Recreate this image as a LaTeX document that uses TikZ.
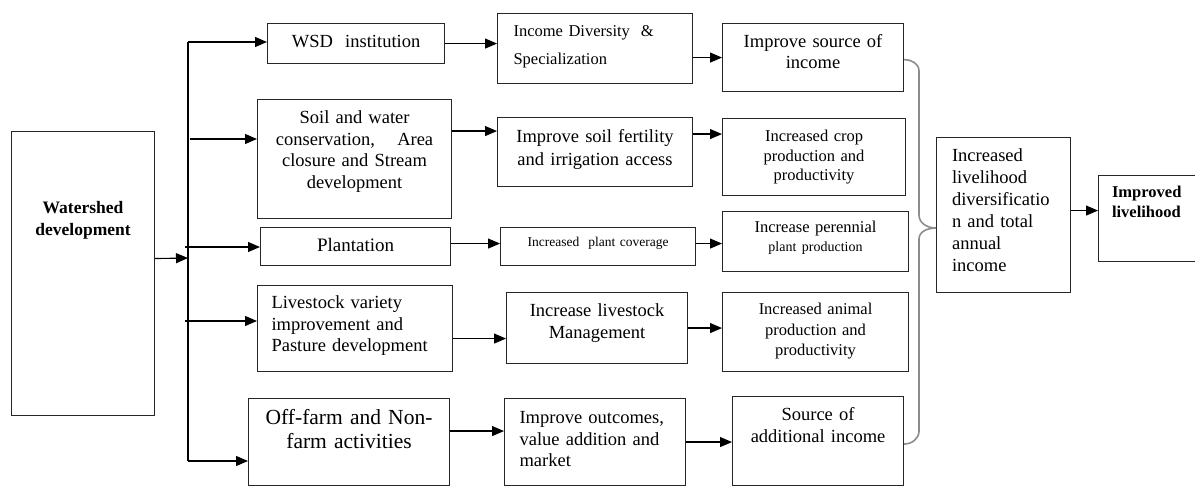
\documentclass[tikz,border=0pt]{standalone}
\usepackage{fontspec}
\setmainfont{Liberation Serif}
\usetikzlibrary{arrows.meta}

\newcommand{\fsz}[2]{\fontsize{#1}{#2}\selectfont}

\begin{document}
\begin{tikzpicture}[x=1pt, y=-1pt,
    box/.style={draw=black!85, line width=1.1pt, anchor=north west, inner xsep=6pt, inner ysep=0pt, align=center},
    lbox/.style={box, align=left},
    arr/.style={line width=1.1pt, -{Triangle[length=12pt,width=10pt]}},
    brace/.style={draw=black!45, line width=1.6pt}]
  \useasboundingbox (0,0) rectangle (1195,486);

  % source box
  \node[box, text width=131pt, text height=82pt, text depth=202pt, font=\fsz{17.5}{21.7}\bfseries] (ws) at (11,131) {Watershed\\development};

  % interventions
  \node[box, text width=165pt, text height=24pt, text depth=16pt, font=\fsz{18.5}{21.7}] (wsd) at (267,23) {WSD\ \ institution};
  \node[box, text width=182pt, text height=24pt, text depth=95pt, font=\fsz{18.5}{21.7}] (swc) at (257,99) {Soil and water\\conservation,\hspace{1.2em}Area\\closure and Stream\\development};
  \node[box, text width=178pt, text height=24pt, text depth=14pt, font=\fsz{19}{22}] (plant) at (260,227) {Plantation};
  \node[lbox, inner xsep=14pt, text width=167pt, text height=23pt, text depth=63pt, font=\fsz{18.5}{21.7}] (lsv) at (257,285) {Livestock variety\\improvement and\\Pasture development};
  \node[box, text width=189pt, text height=26pt, text depth=61pt, font=\fsz{21.5}{24}] (ofn) at (248,398) {Off-farm and Non-\\farm activities};

  % outputs
  \node[lbox, inner xsep=16pt, text width=163pt, text height=23pt, text depth=47pt, font=\fsz{16.5}{27.6}] (incdiv) at (497,13) {Income Diversity\ \ \&\\Specialization};
  \node[box, text width=183pt, text height=25pt, text depth=44pt, font=\fsz{18.5}{23}] (isf) at (497,117) {Improve soil fertility\\and irrigation access};
  \node[box, text width=183pt, text height=19pt, text depth=19pt, font=\fsz{13.5}{16}] (ipc) at (500,227) {Increased\ \ plant coverage};
  \node[box, text width=169pt, text height=24pt, text depth=47pt, font=\fsz{18.5}{21.7}] (ilm) at (506,292) {Increase livestock\\Management};
  \node[lbox, inner xsep=15pt, text width=151pt, text height=25pt, text depth=62pt, font=\fsz{18.5}{21.7}] (iov) at (504,398) {Improve outcomes,\\value addition and\\market};

  % outcomes
  \node[box, text width=169pt, text height=24pt, text depth=44pt, font=\fsz{18.5}{21}] (isi) at (722,23) {Improve source of\\income};
  \node[box, text width=171pt, text height=23pt, text depth=54pt, font=\fsz{16.5}{19.7}] (icp) at (722,118) {Increased crop\\production and\\productivity};
  \node[box, text width=174pt, text height=21pt, text depth=39pt, font=\fsz{16.5}{19}] (ipp) at (722,211) {Increase perennial\\{\fsz{14}{19}plant production}};
  \node[box, text width=174pt, text height=22pt, text depth=57pt, font=\fsz{16.5}{20.5}] (iap) at (722,292) {Increased animal\\production and\\productivity};
  \node[box, text width=159pt, text height=24pt, text depth=65pt, font=\fsz{18.5}{21.7}] (sai) at (732,396) {Source of\\additional income};

  % impact
  \node[lbox, inner xsep=15.5pt, text width=103pt, text height=24pt, text depth=131pt, font=\fsz{18.5}{21.9}] (ild) at (936,137) {Increased\\livelihood\\diversificatio\\n and total\\annual\\income};
  \node[lbox, inner xsep=13.5pt, text width=75pt, text height=22pt, text depth=64pt, font=\fsz{16.5}{20}\bfseries] (imp) at (1098,175) {Improved\\livelihood};

  % trunk and branches
  \coordinate (ttop) at (188,42);
  \coordinate (tbot) at (188,461);
  \coordinate (jn) at (188,258);
  \coordinate (b2) at (190,139);
  \coordinate (b3) at (185,247);
  \coordinate (b4) at (185,321);
  \draw[line width=1.1pt] (ttop) -- (tbot);
  \draw[arr] ([yshift=15pt]ws.east) -- (jn);
  \draw[arr] (ttop) -- (wsd.west |- ttop);
  \draw[arr] (b2) -- (swc.west |- b2);
  \draw[arr] (b3) -- (plant.west |- b3);
  \draw[arr] (b4) -- (lsv.west |- b4);
  \draw[arr] (tbot) -- (ofn.west |- tbot);

  % rows
  \draw[arr] (wsd.east) -- (incdiv.west |- wsd.east);
  \draw[arr] (incdiv.east |- isi.west) -- (isi.west);
  \draw[arr] ([yshift=28pt]swc.east) coordinate (a1) -- (isf.west |- a1);
  \draw[arr] ([yshift=18pt]isf.east) coordinate (a2) -- (icp.west |- a2);
  \draw[arr] ([yshift=3pt]plant.east) coordinate (a3) -- (ipc.west |- a3);
  \draw[arr] ([yshift=3pt]ipc.east) coordinate (a4) -- (ipp.west |- a4);
  \draw[arr] ([yshift=-10pt]lsv.east) coordinate (a5) -- (ilm.west |- a5);
  \draw[arr] (ilm.east) -- (iap.west |- ilm.east);
  \draw[arr] ([yshift=11pt]ofn.east) coordinate (a6) -- (iov.west |- a6);
  \draw[arr] (iov.east) -- (sai.west |- iov.east);

  % brace
  \draw[brace] ([yshift=-2pt]isi.east) to[out=0,in=90] (919,71) -- (919,215)
    to[out=-90,in=180] ([yshift=-13pt]ild.west)
    to[out=180,in=90] (919,239) -- (919,431)
    to[out=-90,in=0] ([yshift=-3pt]sai.east);

  \draw[arr] ([yshift=4.5pt]ild.east) coordinate (a7) -- (imp.west |- a7);
\end{tikzpicture}
\end{document}
